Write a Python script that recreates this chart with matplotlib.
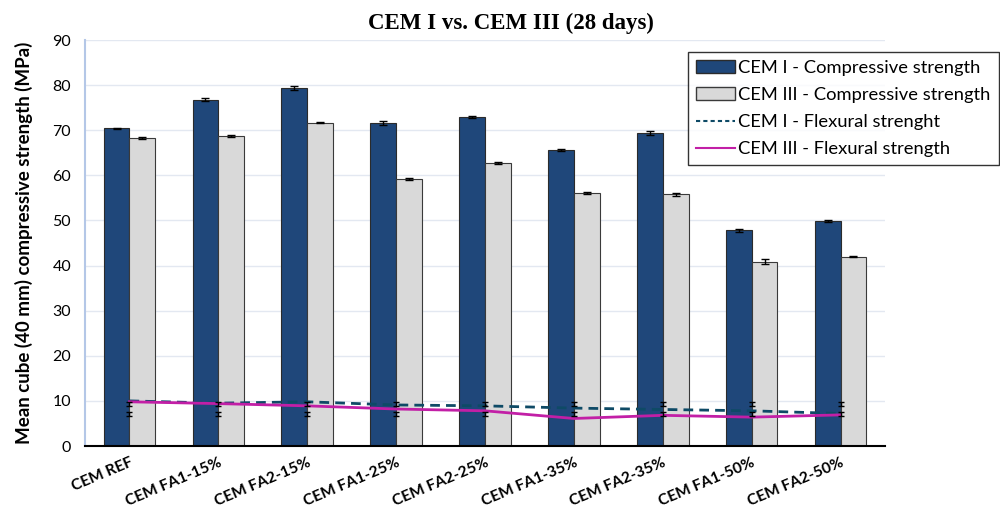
import numpy as np
import matplotlib
matplotlib.use("Agg")
import matplotlib.pyplot as plt
from matplotlib.lines import Line2D
from matplotlib.patches import Patch

categories = ["CEM REF", "CEM FA1-15%", "CEM FA2-15%", "CEM FA1-25%", "CEM FA2-25%",
              "CEM FA1-35%", "CEM FA2-35%", "CEM FA1-50%", "CEM FA2-50%"]
cem1_comp = [70.4, 76.8, 79.4, 71.6, 73.0, 65.6, 69.4, 47.8, 49.9]
cem1_comp_err = [0.2, 0.4, 0.4, 0.5, 0.2, 0.3, 0.5, 0.4, 0.2]
cem3_comp = [68.3, 68.7, 71.7, 59.2, 62.7, 56.0, 55.8, 40.9, 42.0]
cem3_comp_err = [0.2, 0.3, 0.2, 0.3, 0.2, 0.2, 0.3, 0.5, 0.1]
cem1_flex = [10.0, 9.5, 9.8, 9.1, 8.9, 8.4, 8.1, 7.8, 7.2]
cem3_flex = [9.8, 9.4, 8.9, 8.2, 7.8, 6.1, 6.8, 6.4, 6.9]
flex_err_mark_a = [9.3, 9.3, 9.3, 9.3, 9.3, 9.3, 9.3, 9.3, 9.3]
flex_err_mark_b = [7.1, 7.1, 7.1, 7.1, 7.1, 7.1, 7.1, 7.1, 7.1]
flex_err = [0.45, 0.45, 0.45, 0.45, 0.45, 0.45, 0.45, 0.45, 0.45]

fig = plt.figure(figsize=(10, 5.13), dpi=100)
ax = fig.add_axes([0.085, 0.1306, 0.80, 0.7914])

x = np.arange(len(categories))
w = 0.29
dark = "#1f477a"
light = "#d9d9d9"
ax.bar(x - w / 2, cem1_comp, w, color=dark, edgecolor="#2b2b2b", linewidth=0.8, zorder=2,
       yerr=cem1_comp_err, error_kw=dict(ecolor="black", capsize=3, elinewidth=1, capthick=1))
ax.bar(x + w / 2, cem3_comp, w, color=light, edgecolor="#3a3a3a", linewidth=0.8, zorder=2,
       yerr=cem3_comp_err, error_kw=dict(ecolor="black", capsize=3, elinewidth=1, capthick=1))

ax.plot(x, cem1_flex, linestyle=(0, (3.5, 2.2)), color="#0e4a66", linewidth=2, zorder=4)
ax.plot(x, cem3_flex, linestyle="-", color="#c21fa6", linewidth=2, zorder=4)
for c in (flex_err_mark_a, flex_err_mark_b):
    ax.errorbar(x, c, yerr=flex_err, fmt="none", ecolor="black",
                elinewidth=1, capsize=2.5, capthick=1, zorder=5)

ax.set_ylim(0, 90)
ax.set_xlim(-0.5, len(categories) - 0.5)
ax.set_yticks(np.arange(0, 91, 10))
ax.yaxis.grid(True, color="#e3e8f1", linewidth=1, zorder=0)
ax.set_axisbelow(True)
for s in ["top", "right"]:
    ax.spines[s].set_visible(False)
ax.spines["left"].set_color("#b4c7e7")
ax.spines["left"].set_linewidth(1.5)
ax.spines["bottom"].set_color("black")
ax.spines["bottom"].set_linewidth(1.5)
ax.tick_params(axis="both", length=0)
ax.tick_params(axis="y", labelsize=11.5, pad=10)
ax.tick_params(axis="x", pad=7)
ax.set_xticks(x)
ax.set_xticklabels(categories, rotation=23, ha="right", rotation_mode="anchor",
                   fontsize=11.2, fontweight="bold", fontfamily="Lato")
for lab in ax.get_yticklabels():
    lab.set_fontfamily("Lato")

ax.set_ylabel("Mean cube (40 mm) compressive strength (MPa)", fontsize=13.5,
              fontweight="bold", fontfamily="Lato", labelpad=14)
fig.text(0.511, 0.955, "CEM I vs. CEM III (28 days)", ha="center", va="center",
         fontsize=16.5, fontweight="bold", fontfamily="Liberation Serif")

handles = [Patch(facecolor=dark, edgecolor="#2b2b2b"),
           Patch(facecolor=light, edgecolor="#3a3a3a"),
           Line2D([], [], color="#0e4a66", linestyle=(0, (2, 1.5)), linewidth=1.5),
           Line2D([], [], color="#c21fa6", linewidth=1.5)]
labels = ["CEM I - Compressive strength", "CEM III - Compressive strength",
          "CEM I - Flexural strenght", "CEM III - Flexural strength"]
leg = fig.legend(handles, labels, loc="upper left", bbox_to_anchor=(0.688, 0.899),
                 borderaxespad=0, frameon=True, fancybox=False, edgecolor="black",
                 prop=dict(family="Lato", size=13.2), handlelength=2.1, handletextpad=0.2,
                 labelspacing=0.6, borderpad=0.45)
leg.get_frame().set_linewidth(1)

fig.savefig("out.png", dpi=100)
